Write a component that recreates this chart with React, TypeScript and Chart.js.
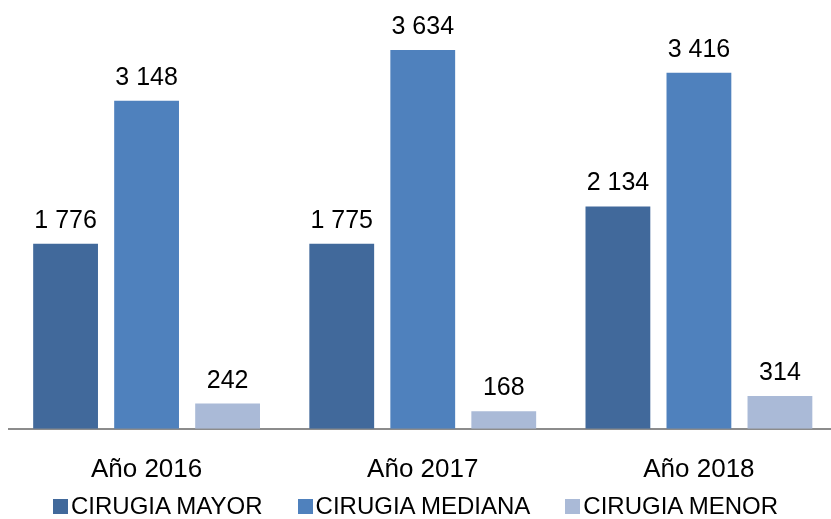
import React, { useEffect, useRef } from "react";
import { Chart, registerables } from "chart.js";

Chart.register(...registerables);

const categories = ["Año 2016", "Año 2017", "Año 2018"];
const seriesNames = ["CIRUGIA MAYOR", "CIRUGIA MEDIANA", "CIRUGIA MENOR"];
const mayor = [1776, 1775, 2134];
const mediana = [3148, 3634, 3416];
const menor = [242, 168, 314];
const colors = ["#41699B", "#4F81BD", "#AABAD7"];

const FONT = "'Liberation Sans', Arial, sans-serif";

const fmt = (v: number) => {
  const s = String(Math.round(v));
  return s.replace(/\B(?=(\d{3})+(?!\d))/g, " ");
};

const dataLabels = {
  id: "dataLabels",
  afterDatasetsDraw(chart: any) {
    const ctx = chart.ctx;
    ctx.save();
    ctx.font = `25px ${FONT}`;
    ctx.fillStyle = "#000000";
    ctx.textAlign = "center";
    ctx.textBaseline = "alphabetic";
    chart.data.datasets.forEach((ds: any, i: number) => {
      const meta = chart.getDatasetMeta(i);
      meta.data.forEach((bar: any, j: number) => {
        ctx.fillText(fmt(ds.data[j]), bar.x, bar.y - 16);
      });
    });
    ctx.restore();
  },
};

export default function App() {
  const ref = useRef<HTMLCanvasElement | null>(null);
  useEffect(() => {
    document.body.style.margin = "0";
    const canvas = ref.current!;
    const chart = new Chart(canvas, {
      type: "bar",
      data: {
        labels: categories,
        datasets: [mayor, mediana, menor].map((d, i) => ({
          label: seriesNames[i],
          data: d,
          backgroundColor: colors[i],
          borderWidth: 0,
          categoryPercentage: 0.88,
          barPercentage: 0.8,
        })),
      },
      options: {
        animation: false,
        responsive: false,
        maintainAspectRatio: false,
        layout: { padding: { left: 8.5, right: 0, top: 0, bottom: 9 } },
        plugins: {
          legend: { display: false },
          tooltip: { enabled: false },
        },
        scales: {
          x: {
            grid: { display: false, drawTicks: false },
            border: { display: true, color: "#8C8C8C", width: 2 },
            ticks: {
              font: { family: FONT, size: 26 },
              color: "#000000",
              padding: 25,
            },
          },
          y: {
            display: false,
            min: 0,
            max: 4115,
          },
        },
      },
      plugins: [dataLabels],
    });
    return () => chart.destroy();
  }, []);
  return (
    <div style={{ position: "relative", width: 831, height: 519, overflow: "hidden" }}>
      <canvas ref={ref} width={837} height={519} style={{ display: "block" }} />
      <div
        style={{
          position: "absolute",
          left: 0,
          top: 494,
          width: 831,
          display: "flex",
          justifyContent: "center",
          alignItems: "center",
          gap: 35,
          fontFamily: FONT,
          fontSize: 24,
          lineHeight: "24px",
          color: "#000000",
          whiteSpace: "nowrap",
        }}
      >
        {seriesNames.map((name, i) => (
          <div key={name} style={{ display: "flex", alignItems: "center" }}>
            <span
              style={{
                display: "inline-block",
                width: 15,
                height: 15,
                background: colors[i],
                marginRight: 3,
              }}
            />
            <span>{name}</span>
          </div>
        ))}
      </div>
    </div>
  );
}
